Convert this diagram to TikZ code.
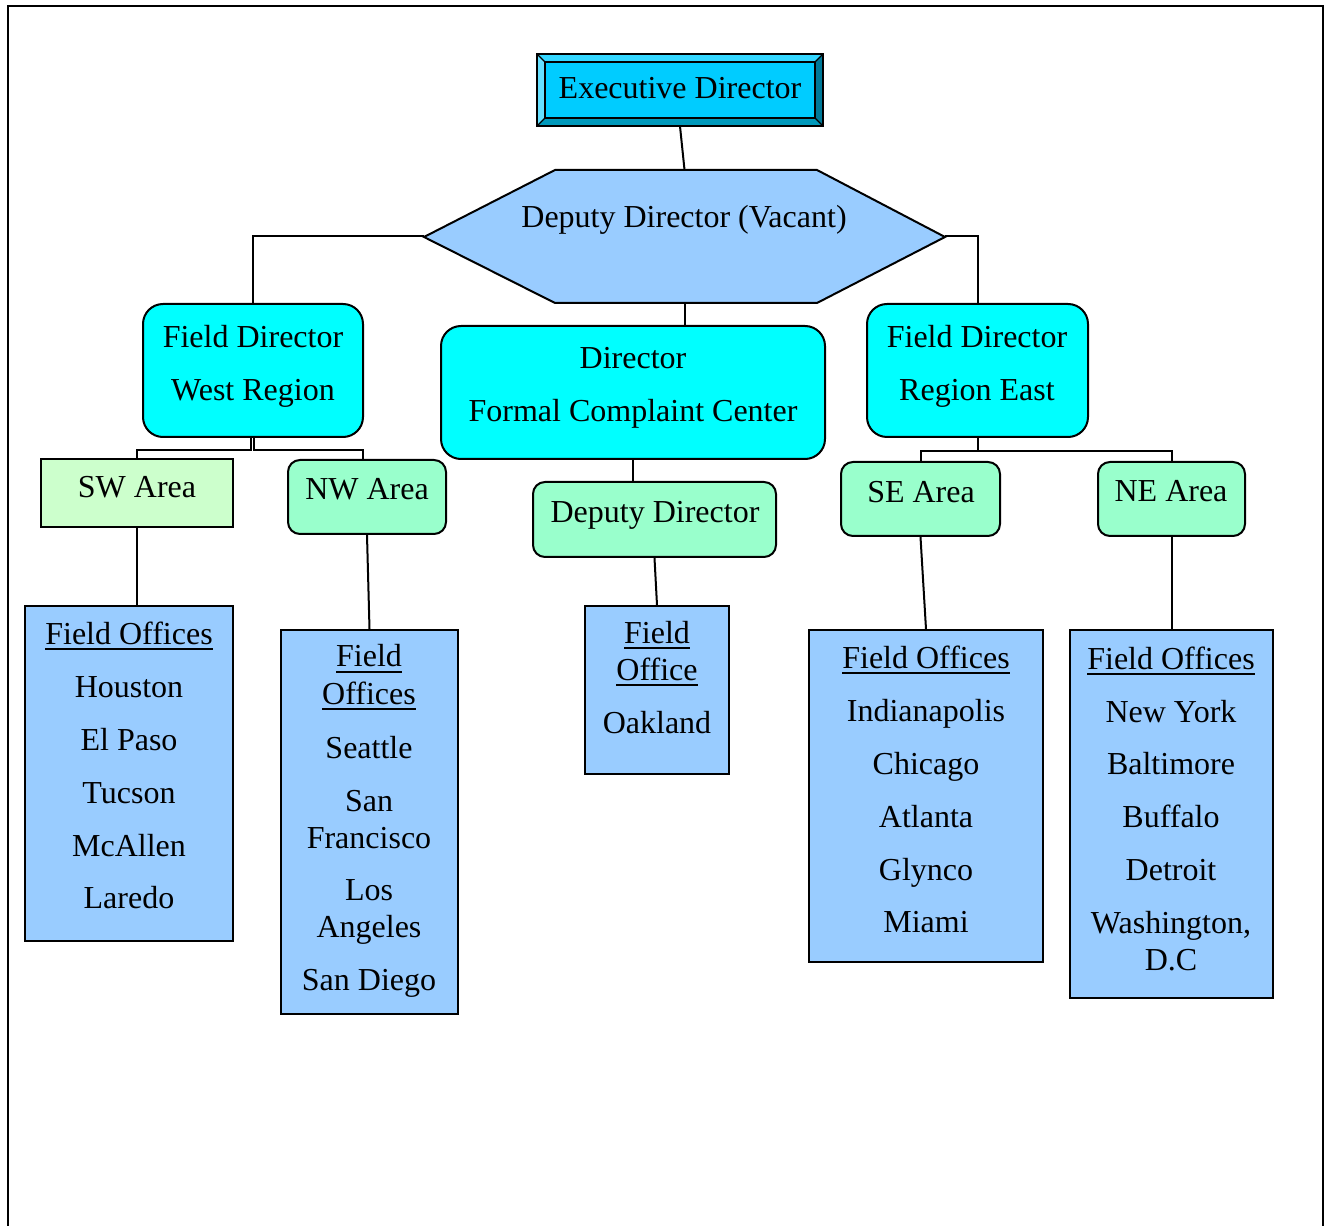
\documentclass[tikz,border=0pt]{standalone}
\usepackage{fontspec}
\setmainfont{Liberation Serif}
\usetikzlibrary{fit}
\definecolor{execc}{HTML}{00CCFF}
\definecolor{bevL}{HTML}{66E0FF}
\definecolor{bevT}{HTML}{33D6FF}
\definecolor{bevR}{HTML}{007A99}
\definecolor{bevB}{HTML}{0099BB}
\definecolor{hexc}{HTML}{99CCFF}
\definecolor{cyanc}{HTML}{00FFFF}
\definecolor{swc}{HTML}{CCFFCC}
\definecolor{areac}{HTML}{99FFCC}
\definecolor{foc}{HTML}{99CCFF}
\newcommand{\myul}[1]{\setbox0\hbox{#1}\rlap{\rule[-4.6pt]{\wd0}{1.4pt}}\box0}
\tikzset{
  bx/.style={inner sep=0pt, draw=black, line width=1.5pt},
  cbox/.style={bx, fill=cyanc, rounded corners=15pt},
  swbox/.style={bx, fill=swc},
  abox/.style={bx, fill=areac, rounded corners=9pt},
  fobox/.style={bx, fill=foc},
  txt/.style={anchor=base, inner sep=0pt, font=\fontsize{24}{28}\selectfont},
  conn/.style={draw=black, line width=1.5pt},
}
\begin{document}
\begin{tikzpicture}[x=0.75pt,y=-0.75pt]
\useasboundingbox (0,0) rectangle (1325,1226);
% frame
\draw[line width=1.9pt] (8,1226) -- (8,6) -- (1323,6) -- (1323,1226);

% Executive Director (bevelled box)
\node[fit={(537,54)(823,126)}, inner sep=0pt] (exec) {};
\fill[execc] (537,54) rectangle (823,126);
\fill[bevT] (537,54) -- (823,54) -- (815,62) -- (545,62) -- cycle;
\fill[bevL] (537,54) -- (545,62) -- (545,118) -- (537,126) -- cycle;
\fill[bevR] (823,54) -- (815,62) -- (815,118) -- (823,126) -- cycle;
\fill[bevB] (537,126) -- (545,118) -- (815,118) -- (823,126) -- cycle;
\draw[line width=1.4pt] (537,54) rectangle (823,126);
\draw[line width=1.2pt] (545,62) rectangle (815,118);
\draw[line width=0.9pt] (537,54) -- (545,62) (823,54) -- (815,62) (537,126) -- (545,118) (823,126) -- (815,118);
\node[txt] (exect) at (680,99) {Executive Director};

% Deputy Director (Vacant) hexagon
\filldraw[fill=hexc, draw=black, line width=1.5pt] (424,237) -- (555,170) -- (817,170) -- (945,237) -- (817,303) -- (555,303) -- cycle;
\node[fit={(424,170)(945,303)}, inner sep=0pt] (dep) {};
\node[txt] (dept) at (684,228) {Deputy Director (Vacant)};

% boxes
\node[cbox, fit={(143,304)(363,437)}] (fdw) {};
\node[cbox, fit={(441,326)(825,459)}] (dir) {};
\node[cbox, fit={(867,304)(1088,437)}] (fde) {};
\node[swbox, fit={(41,459)(233,527)}] (sw) {};
\node[abox, fit={(288,460)(446,534)}] (nw) {};
\node[abox, fit={(533,482)(776,557)}] (dd) {};
\node[abox, fit={(841,462)(1000,536)}] (se) {};
\node[abox, fit={(1098,462)(1245,536)}] (ne) {};
\node[fobox, fit={(25,606)(233,941)}] (fo1) {};
\node[fobox, fit={(281,630)(458,1014)}] (fo2) {};
\node[fobox, fit={(585,606)(729,774)}] (fo3) {};
\node[fobox, fit={(809,630)(1043,962)}] (fo4) {};
\node[fobox, fit={(1070,630)(1273,998)}] (fo5) {};

% connectors
\draw[conn] (exec.south) -- (dep.north);
\draw[conn] (dep.west) -| (fdw.north);
\draw[conn] (dep.east) -| (fde.north);
\draw[conn] (dep.south) -- (dep.south |- dir.north);
\draw[conn] ([xshift=-1.5pt]fdw.south) -- ++(0,12) -| (sw.north);
\draw[conn] ([xshift=1pt]fdw.south) -- ++(0,12) -| ([xshift=-3pt]nw.north);
\draw[conn] (dir.south) -- (dir.south |- dd.north);
\draw[conn] (fde.south) -- ++(0,13) -| (se.north);
\draw[conn] (fde.south) -- ++(0,13) -| (ne.north);
\draw[conn] (sw.south) -- (sw.south |- fo1.north);
\draw[conn] (nw.south) -- (fo2.north);
\draw[conn] (dd.south) -- (fo3.north);
\draw[conn] (se.south) -- (fo4.north);
\draw[conn] (ne.south) -- (fo5.north);

% box texts
\node[txt] (fdw1) at (253,348) {Field Director};
\node[txt] (fdw2) at (253,401) {West Region};
\node[txt] (dir1) at (633,369) {Director};
\node[txt] (dir2) at (633,422) {Formal Complaint Center};
\node[txt] (fde1) at (977,348) {Field Director};
\node[txt] (fde2) at (977,401) {Region East};
\node[txt] (swt) at (137,498) {SW Area};
\node[txt] (nwt) at (367,500) {NW Area};
\node[txt] (ddt) at (655,523) {Deputy Director};
\node[txt] (set) at (921,503) {SE Area};
\node[txt] (net) at (1171,502) {NE Area};

% field office lists
\node[txt] (fo1h) at (129,644) {\myul{Field Offices}};
\foreach \t/\y [count=\i] in {Houston/697, El Paso/750, Tucson/803, McAllen/856, Laredo/908}
  \node[txt] (fo1-\i) at (129,\y) {\t};

\node[txt] (fo2h1) at (369,667) {\myul{Field}};
\node[txt] (fo2h2) at (369,704) {\myul{Offices}};
\foreach \t/\y [count=\i] in {Seattle/758, San/811, Francisco/848, Los/900, Angeles/937, San Diego/990}
  \node[txt] (fo2-\i) at (369,\y) {\t};

\node[txt] (fo3h1) at (657,643) {\myul{Field}};
\node[txt] (fo3h2) at (657,680) {\myul{Office}};
\node[txt] (fo3-1) at (657,733) {Oakland};

\node[txt] (fo4h) at (926,668) {\myul{Field Offices}};
\foreach \t/\y [count=\i] in {Indianapolis/721, Chicago/774, Atlanta/827, Glynco/880, Miami/932}
  \node[txt] (fo4-\i) at (926,\y) {\t};

\node[txt] (fo5h) at (1171,669) {\myul{Field Offices}};
\foreach \t/\y [count=\i] in {New York/722, Baltimore/774, Buffalo/827, Detroit/880, {Washington,}/933, D.C/970}
  \node[txt] (fo5-\i) at (1171,\y) {\t};
\end{tikzpicture}
\end{document}
